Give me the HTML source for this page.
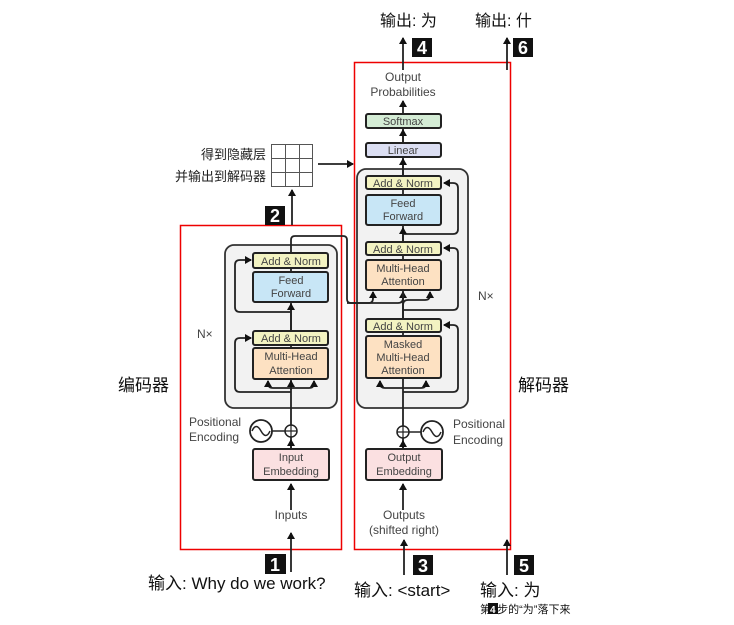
<!DOCTYPE html>
<html><head><meta charset="utf-8"><style>
body{margin:0;background:#fff;width:734px;height:625px;overflow:hidden}
svg{display:block}
text{font-family:"Liberation Sans","Noto Sans CJK SC",sans-serif}
.g{font-size:11px;fill:#444;text-anchor:middle}
.b{stroke:#222;stroke-width:2}
.l{stroke:#222;stroke-width:1.8;fill:none}
.c{font-family:"Liberation Sans","Noto Sans CJK SC",sans-serif}
</style></head><body>
<svg width="734" height="625" viewBox="0 0 734 625">
<defs><marker id="a" markerWidth="8" markerHeight="8" refX="6" refY="4" orient="auto" markerUnits="userSpaceOnUse"><path d="M0,0L7,4L0,8z" fill="#111"/></marker></defs>
<!-- red boxes -->
<rect x="180.5" y="225.5" width="161" height="324" fill="none" stroke="#e00" stroke-width="1.5"/>
<rect x="354.5" y="62.5" width="156" height="487" fill="none" stroke="#e00" stroke-width="1.5"/>
<!-- gray boxes -->
<rect x="225" y="245" width="112" height="163" rx="9" fill="#f2f2f2" stroke="#333" stroke-width="1.8"/>
<rect x="357" y="169" width="111" height="239" rx="9" fill="#f2f2f2" stroke="#333" stroke-width="1.8"/>
<!-- encoder lines -->
<path class="l" d="M291,449 V437 M291,425 V253" />
<path class="l" d="M291,392 H240 Q235,392 235,387 V343 Q235,338 240,338 H251" marker-end="url(#a)"/>
<path class="l" d="M291,312 H240 Q235,312 235,307 V265 Q235,260 240,260 H251" marker-end="url(#a)"/>
<path class="l" d="M291,388 H273 Q268,388 268,383 V381" marker-end="url(#a)"/>
<path class="l" d="M291,388 H309 Q314,388 314,383 V381" marker-end="url(#a)"/>
<path class="l" d="M291,390 V381" marker-end="url(#a)"/>
<path class="l" d="M291,331 V304" marker-end="url(#a)"/>
<path class="l" d="M291,510 V484" marker-end="url(#a)"/>
<path class="l" d="M291,449 V440" marker-end="url(#a)"/>
<path class="l" d="M291,572 V533" marker-end="url(#a)"/>
<!-- encoder to decoder -->
<path class="l" d="M291,253 V240 Q291,236 295,236 H343 Q347,236 347,240 V299 Q347,303 351,303 H369 Q373,303 373,298 V292" marker-end="url(#a)"/>
<path class="l" d="M347,303 H398 Q403,303 403,298 V292" marker-end="url(#a)"/>
<!-- decoder lines -->
<path class="l" d="M403,449 V438 M403,426 V114"/>
<path class="l" d="M403,332 V305 Q403,300 408,300 H425 Q430,300 430,295 V292" marker-end="url(#a)"/>
<path class="l" d="M403,392 H453 Q458,392 458,387 V330 Q458,325 453,325 H444" marker-end="url(#a)"/>
<path class="l" d="M403,310 H453 Q458,310 458,305 V253 Q458,248 453,248 H444" marker-end="url(#a)"/>
<path class="l" d="M403,234 H453 Q458,234 458,229 V188 Q458,183 453,183 H444" marker-end="url(#a)"/>
<path class="l" d="M403,388 H385 Q380,388 380,383 V381" marker-end="url(#a)"/>
<path class="l" d="M403,388 H421 Q426,388 426,383 V381" marker-end="url(#a)"/>
<path class="l" d="M403,241 V228" marker-end="url(#a)"/>
<path class="l" d="M403,175 V159" marker-end="url(#a)"/>
<path class="l" d="M403,142 V130" marker-end="url(#a)"/>
<path class="l" d="M403,113 V101" marker-end="url(#a)"/>
<path class="l" d="M403,510 V484" marker-end="url(#a)"/>
<path class="l" d="M403,449 V441" marker-end="url(#a)"/>
<path class="l" d="M404,575 V540" marker-end="url(#a)"/>
<path class="l" d="M507,575 V540" marker-end="url(#a)"/>
<path class="l" d="M403,70 V38" marker-end="url(#a)"/>
<path class="l" d="M507,70 V38" marker-end="url(#a)"/>
<path class="l" d="M292,225 V190" marker-end="url(#a)"/>
<path class="l" d="M318,164 H353" marker-end="url(#a)"/>
<!-- encoder boxes -->
<rect class="b" x="253" y="253" width="75" height="15" rx="2" fill="#f3f3c2"/><text class="g" x="291" y="265">Add &amp; Norm</text>
<rect class="b" x="253" y="272" width="75" height="30" rx="2" fill="#c8e6f6"/><text class="g" x="291" y="284">Feed</text><text class="g" x="291" y="297">Forward</text>
<rect class="b" x="253" y="331" width="75" height="14" rx="2" fill="#f3f3c2"/><text class="g" x="291" y="342">Add &amp; Norm</text>
<rect class="b" x="253" y="348" width="75" height="31" rx="2" fill="#fde1c2"/><text class="g" x="291" y="360">Multi-Head</text><text class="g" x="291" y="374">Attention</text>
<rect class="b" x="253" y="449" width="76" height="31" rx="2" fill="#fbe0e1"/><text class="g" x="291" y="461">Input</text><text class="g" x="291" y="475">Embedding</text>
<!-- decoder boxes -->
<rect class="b" x="366" y="176" width="75" height="13" rx="2" fill="#f3f3c2"/><text class="g" x="403" y="187">Add &amp; Norm</text>
<rect class="b" x="366" y="195" width="75" height="30" rx="2" fill="#c8e6f6"/><text class="g" x="403" y="207">Feed</text><text class="g" x="403" y="220">Forward</text>
<rect class="b" x="366" y="242" width="75" height="13" rx="2" fill="#f3f3c2"/><text class="g" x="403" y="253">Add &amp; Norm</text>
<rect class="b" x="366" y="260" width="75" height="30" rx="2" fill="#fde1c2"/><text class="g" x="403" y="272">Multi-Head</text><text class="g" x="403" y="285">Attention</text>
<rect class="b" x="366" y="319" width="75" height="13" rx="2" fill="#f3f3c2"/><text class="g" x="403" y="330">Add &amp; Norm</text>
<rect class="b" x="366" y="336" width="75" height="42" rx="2" fill="#fde1c2"/><text class="g" x="403" y="348">Masked</text><text class="g" x="403" y="361">Multi-Head</text><text class="g" x="403" y="374">Attention</text>
<rect class="b" x="366" y="449" width="76" height="31" rx="2" fill="#fbe0e1"/><text class="g" x="404" y="461">Output</text><text class="g" x="404" y="475">Embedding</text>
<rect class="b" x="366" y="143" width="75" height="14" rx="2" fill="#dcdff3"/><text class="g" x="403" y="154">Linear</text>
<rect class="b" x="366" y="114" width="75" height="14" rx="2" fill="#d4ecd5"/><text class="g" x="403" y="125">Softmax</text>
<text class="g" x="403" y="81" style="font-size:12px">Output</text><text class="g" x="403" y="96" style="font-size:12px">Probabilities</text>
<!-- positional -->
<circle cx="291" cy="431" r="6" fill="#fff" stroke="#222" stroke-width="1.5"/><path d="M285,431h12M291,425v12" stroke="#222" stroke-width="1.2"/>
<circle cx="261" cy="431" r="11" fill="#fff" stroke="#222" stroke-width="1.8"/><path d="M252,431 q4,-9 9,0 t9,0" fill="none" stroke="#222" stroke-width="1.5"/>
<path d="M272,431H285" stroke="#222" stroke-width="1.5"/>
<circle cx="403" cy="432" r="6" fill="#fff" stroke="#222" stroke-width="1.5"/><path d="M397,432h12M403,426v12" stroke="#222" stroke-width="1.2"/>
<circle cx="432" cy="432" r="11" fill="#fff" stroke="#222" stroke-width="1.8"/><path d="M423,432 q4,-9 9,0 t9,0" fill="none" stroke="#222" stroke-width="1.5"/>
<path d="M409,432H421" stroke="#222" stroke-width="1.5"/>
<text x="189" y="426" style="font-size:12px;fill:#444">Positional</text><text x="189" y="441" style="font-size:12px;fill:#444">Encoding</text>
<text x="453" y="428" style="font-size:12px;fill:#444">Positional</text><text x="453" y="444" style="font-size:12px;fill:#444">Encoding</text>
<text class="g" x="291" y="519" style="font-size:12px">Inputs</text>
<text class="g" x="404" y="519" style="font-size:12px">Outputs</text><text class="g" x="404" y="534" style="font-size:12px">(shifted right)</text>
<text x="197" y="338" style="font-size:12px;fill:#444">N×</text>
<text x="478" y="300" style="font-size:12px;fill:#444">N×</text>
<!-- grid -->
<g stroke="#555" stroke-width="1" fill="#fff"><rect x="271.5" y="144.5" width="41" height="42"/><path d="M285.5,144.5v42M299.5,144.5v42M271.5,158.5h41M271.5,172.5h41"/></g>
<text x="266" y="159" style="font-size:13px;fill:#222;text-anchor:end">得到隐藏层</text>
<text x="266" y="181" style="font-size:13px;fill:#222;text-anchor:end">并输出到解码器</text>
<!-- labels -->
<text x="118" y="391" style="font-size:17px;fill:#111">编码器</text>
<text x="518" y="391" style="font-size:17px;fill:#111">解码器</text>
<text x="380" y="26" style="font-size:16px;fill:#111">输出: 为</text>
<text x="475" y="26" style="font-size:16px;fill:#111">输出: 什</text>
<text x="148" y="589" style="font-size:17px;fill:#111">输入: Why do we work?</text>
<text x="354" y="596" style="font-size:17px;fill:#111">输入: &lt;start&gt;</text>
<text x="480" y="596" style="font-size:17px;fill:#111">输入: 为</text>
<text x="480" y="613" style="font-size:11px;fill:#111">第<tspan fill="#fff" style="font-weight:bold">4</tspan>步的“为”落下来</text>
<rect x="488" y="603" width="10" height="11" fill="#111"/><text x="490" y="613" style="font-size:10px;fill:#fff;font-weight:bold">4</text>
<!-- badges -->
<g style="font-size:18px;font-weight:bold;fill:#fff;text-anchor:middle">
<rect x="412" y="38" width="20" height="19" fill="#111"/><text x="422" y="54">4</text>
<rect x="513" y="38" width="20" height="19" fill="#111"/><text x="523" y="54">6</text>
<rect x="265" y="206" width="20" height="19" fill="#111"/><text x="275" y="222">2</text>
<rect x="265" y="554" width="21" height="20" fill="#111"/><text x="275" y="571">1</text>
<rect x="413" y="555" width="20" height="20" fill="#111"/><text x="423" y="572">3</text>
<rect x="514" y="555" width="20" height="20" fill="#111"/><text x="524" y="572">5</text>
</g>
</svg>
</body></html>
